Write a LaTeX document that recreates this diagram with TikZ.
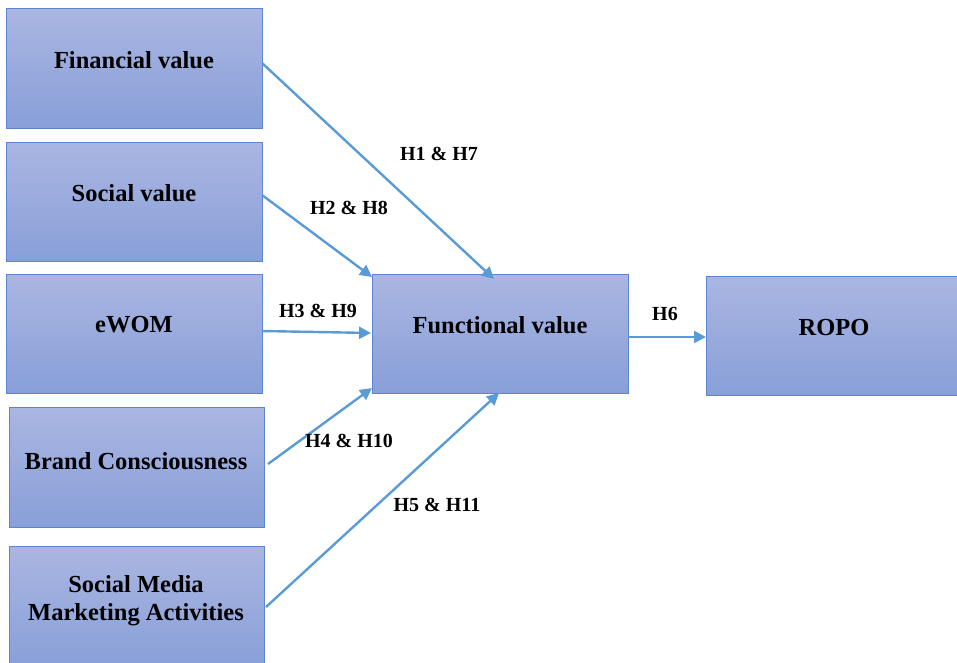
\documentclass[tikz,border=0pt]{standalone}
\usepackage{fontspec}
\setmainfont{Liberation Serif}
\usetikzlibrary{arrows.meta}
\definecolor{boxtop}{RGB}{170,182,226}
\definecolor{boxbot}{RGB}{136,159,216}
\definecolor{boxline}{RGB}{92,132,210}
\definecolor{arr}{RGB}{91,155,213}
\tikzset{
  box/.style={draw=boxline, line width=0.9pt, top color=boxtop, bottom color=boxbot, inner sep=0pt},
  lbl/.style={font=\bfseries\fontsize{24.5}{28}\selectfont, align=center},
  hyp/.style={font=\bfseries\fontsize{20}{22}\selectfont},
  conn/.style={draw=arr, line width=2.4pt, -{Triangle[length=12pt,width=12pt]}}
}
\begin{document}
\begin{tikzpicture}[x=1pt,y=-1pt]
\useasboundingbox (0,0) rectangle (957,662);
% boxes
\path[box] (6,8) rectangle (262,128);
\path[box] (6,142) rectangle (262,261);
\path[box] (6,274) rectangle (262,393);
\path[box] (9,407) rectangle (264,527);
\path[box] (9,546) rectangle (264,668);
\path[box] (372,274) rectangle (628,393);
\path[box] (706,276) rectangle (962,395);
% labels
\node[lbl] (fin) at (134,60) {Financial value};
\node[lbl] (soc) at (134,193) {Social value};
\node[lbl] (ewom) at (134,325) {eWOM};
\node[lbl] (brand) at (136,461) {Brand Consciousness};
\node[lbl] (smma) at (136,601) {Social Media\\Marketing Activities};
\node[lbl] (func) at (500,325) {Functional value};
\node[lbl] (ropo) at (834,327) {ROPO};
% anchor coordinates
\coordinate (finR) at (262,63);
\coordinate (socR) at (262,195);
\coordinate (ewomR) at (262,331);
\coordinate (brandR) at (268,464);
\coordinate (smmaR) at (266,607);
\coordinate (fA) at (494,279);
\coordinate (fB) at (372,277);
\coordinate (fC) at (371,333);
\coordinate (fD) at (372,388);
\coordinate (fE) at (499,393);
\coordinate (funcR) at (628,337);
\coordinate (ropoL) at (706,337);
% connectors
\draw[conn] (finR) -- (fA);
\draw[conn] (socR) -- (fB);
\draw[conn] (ewomR) -- (fC);
\draw[conn] (brandR) -- (fD);
\draw[conn] (smmaR) -- (fE);
\draw[conn] (funcR) -- (ropoL);
% hypothesis labels
\node[hyp] (h1) at (439,154) {H1 \& H7};
\node[hyp] (h2) at (349,208) {H2 \& H8};
\node[hyp] (h3) at (318,311) {H3 \& H9};
\node[hyp] (h4) at (349,441) {H4 \& H10};
\node[hyp] (h5) at (437,505) {H5 \& H11};
\node[hyp] (h6) at (665,314) {H6};
\end{tikzpicture}
\end{document}
